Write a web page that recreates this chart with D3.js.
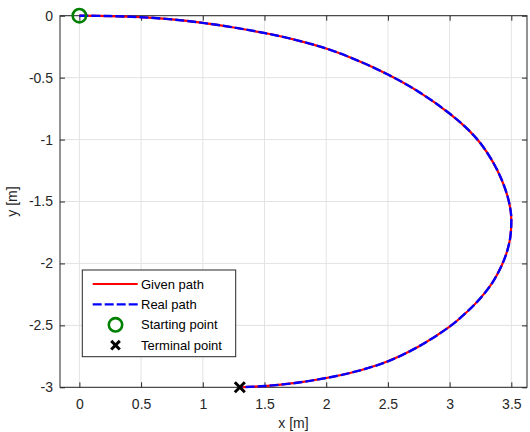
<!DOCTYPE html>
<html>
<head>
<meta charset="utf-8">
<script src="https://cdn.jsdelivr.net/npm/d3@7"></script>
<style>
  body { margin: 0; background: #fff; }
  svg { display: block; font-family: "Liberation Sans", Arial, sans-serif; }
</style>
</head>
<body>
<div id="main"></div>
<script>
// path points (given and real path overlap)
const givenX = [0, 0.25, 0.5, 0.75, 1.0, 1.25, 1.5, 1.75, 2.0, 2.25, 2.5, 2.75, 3.0, 3.15, 3.25, 3.35, 3.42, 3.47, 3.495, 3.5,
                3.49, 3.46, 3.42, 3.35, 3.25, 3.12, 3.0, 2.75, 2.5, 2.25, 2.0, 1.75, 1.5, 1.3];
const givenY = [0, -0.003, -0.012, -0.03, -0.058, -0.095, -0.14, -0.195, -0.265, -0.36, -0.475, -0.615, -0.79, -0.92, -1.03, -1.18, -1.32, -1.46, -1.58, -1.66,
                -1.8, -1.92, -2.02, -2.15, -2.28, -2.41, -2.51, -2.67, -2.79, -2.87, -2.925, -2.965, -2.99, -3.0];
const realX = givenX.slice();
const realY = givenY.slice();

const startPoint = [0, 0];
const endPoint = [1.3, -3];

const xTicks = [0, 0.5, 1, 1.5, 2, 2.5, 3, 3.5];
const yTicks = [0, -0.5, -1, -1.5, -2, -2.5, -3];
const legendLabels = ['Given path', 'Real path', 'Starting point', 'Terminal point'];

// sizes
const W = 530, H = 432;
const padL = 60, padR = 527, padT = 15.7, padB = 387.3;
const axisColor = '#262626';

const svg = d3.select('#main')
  .append('svg')
  .attr('width', W)
  .attr('height', H)
  .style('background-color', '#fff');

// scales
const x = d3.scaleLinear().domain([-0.157, 3.627]).range([padL, padR]);
const y = d3.scaleLinear().domain([-3, 0]).range([padB, padT]);

// grid
svg.append('g')
  .selectAll('line')
  .data(xTicks)
  .enter()
  .append('line')
  .attr('x1', d => x(d)).attr('x2', d => x(d))
  .attr('y1', padT).attr('y2', padB)
  .attr('stroke', '#e3e3e3');

svg.append('g')
  .selectAll('line')
  .data(yTicks)
  .enter()
  .append('line')
  .attr('y1', d => y(d)).attr('y2', d => y(d))
  .attr('x1', padL).attr('x2', padR)
  .attr('stroke', '#e3e3e3');

// axes
const fmt = d => String(d);

const gx = svg.append('g')
  .attr('transform', `translate(0, ${padB})`)
  .call(d3.axisBottom(x).tickValues(xTicks).tickSize(-5).tickSizeOuter(0).tickPadding(12).tickFormat(fmt));

const gxTop = svg.append('g')
  .attr('transform', `translate(0, ${padT})`)
  .call(d3.axisTop(x).tickValues(xTicks).tickSize(-5).tickSizeOuter(0).tickFormat(''));

const gy = svg.append('g')
  .attr('transform', `translate(${padL}, 0)`)
  .call(d3.axisLeft(y).tickValues(yTicks).tickSize(-5).tickSizeOuter(0).tickPadding(7).tickFormat(fmt));

const gyRight = svg.append('g')
  .attr('transform', `translate(${padR}, 0)`)
  .call(d3.axisRight(y).tickValues(yTicks).tickSize(-5).tickSizeOuter(0).tickFormat(''));

[gx, gxTop, gy, gyRight].forEach(g => {
  g.select('.domain').remove();
  g.selectAll('line').attr('stroke', axisColor);
  g.selectAll('text')
    .attr('fill', axisColor)
    .style('font-size', '14px')
    .style('font-family', '"Liberation Sans", Arial, sans-serif');
});

svg.append('rect')
  .attr('x', padL).attr('y', padT)
  .attr('width', padR - padL).attr('height', padB - padT)
  .attr('fill', 'none')
  .attr('stroke', axisColor)
  .attr('stroke-width', 1);

// axis labels
svg.append('text')
  .attr('x', (padL + padR) / 2)
  .attr('y', 427.5)
  .attr('text-anchor', 'middle')
  .attr('fill', axisColor)
  .style('font-size', '14px')
  .text('x [m]');

svg.append('text')
  .attr('transform', `translate(17, ${(padT + padB) / 2}) rotate(-90)`)
  .attr('text-anchor', 'middle')
  .attr('fill', axisColor)
  .style('font-size', '14px')
  .text('y [m]');

// lines
const line = d3.line()
  .x(d => x(d[0]))
  .y(d => y(d[1]))
  .curve(d3.curveCatmullRom.alpha(0.5));

const given = givenX.map((v, i) => [v, givenY[i]]);
const real = realX.map((v, i) => [v, realY[i]]);

svg.append('path')
  .datum(given)
  .attr('d', line)
  .attr('fill', 'none')
  .attr('stroke', '#ff0000')
  .attr('stroke-width', 2.2);

svg.append('path')
  .datum(real)
  .attr('d', line)
  .attr('fill', 'none')
  .attr('stroke', '#0000ff')
  .attr('stroke-width', 2.4)
  .attr('stroke-dasharray', '9,3');

// markers
function xMark(g, cx, cy, s) {
  g.append('path')
    .attr('d', `M${cx - s},${cy - s}L${cx + s},${cy + s}M${cx - s},${cy + s}L${cx + s},${cy - s}`)
    .attr('stroke', '#000')
    .attr('stroke-width', 3)
    .attr('fill', 'none');
}

svg.append('circle')
  .attr('cx', x(startPoint[0]))
  .attr('cy', y(startPoint[1]))
  .attr('r', 6.7)
  .attr('fill', 'none')
  .attr('stroke', '#008000')
  .attr('stroke-width', 2.6);

xMark(svg, x(endPoint[0]), y(endPoint[1]), 5);

// legend
const legend = svg.append('g');
legend.append('rect')
  .attr('x', 82.3).attr('y', 270)
  .attr('width', 153.4).attr('height', 86.7)
  .attr('fill', '#fff')
  .attr('stroke', axisColor)
  .attr('stroke-width', 1);

const rowY = i => 284 + i * 20.4;

legend.append('line')
  .attr('x1', 92.7).attr('x2', 137.7)
  .attr('y1', rowY(0)).attr('y2', rowY(0))
  .attr('stroke', '#ff0000').attr('stroke-width', 2.2);

legend.append('line')
  .attr('x1', 92.7).attr('x2', 137.7)
  .attr('y1', rowY(1)).attr('y2', rowY(1))
  .attr('stroke', '#0000ff').attr('stroke-width', 2.4)
  .attr('stroke-dasharray', '9,3');

legend.append('circle')
  .attr('cx', 115.5).attr('cy', rowY(2))
  .attr('r', 6.7)
  .attr('fill', 'none')
  .attr('stroke', '#008000')
  .attr('stroke-width', 2.6);

xMark(legend, 115.5, rowY(3), 4.3);

legend.selectAll('text')
  .data(legendLabels)
  .enter()
  .append('text')
  .attr('x', 141)
  .attr('y', (d, i) => rowY(i))
  .attr('dy', '0.35em')
  .attr('fill', '#000')
  .style('font-size', '13px')
  .text(d => d);
</script>
</body>
</html>
